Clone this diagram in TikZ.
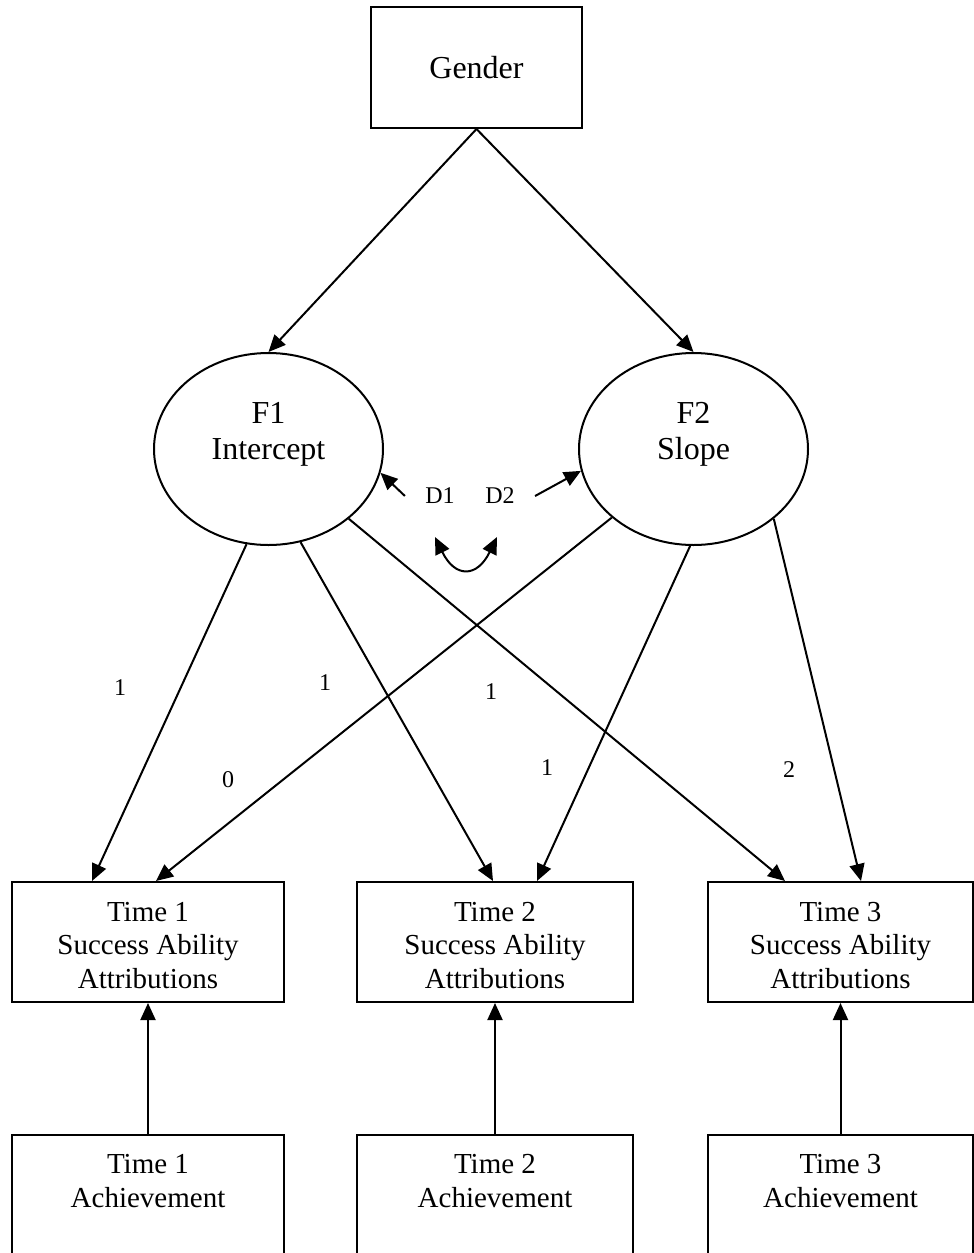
\documentclass[tikz,border=0pt]{standalone}
\usepackage{fontspec}
\setmainfont{Liberation Serif}
\usetikzlibrary{shapes.geometric,arrows.meta,calc}
\begin{document}
\begin{tikzpicture}[x=0.5pt,y=-0.5pt,
  box/.style={draw, line width=1pt, rectangle, inner sep=0pt, align=center},
  obs/.style={box, font=\fontsize{14.5}{16.75}\selectfont},
  latent/.style={draw, ellipse, line width=1pt, inner sep=0pt,
    minimum width=114.5pt, minimum height=96pt, align=center,
    font=\fontsize{16}{18}\selectfont},
  tip/.tip={Triangle[length=8.5pt,width=7.5pt]},
  path/.style={line width=1pt, -tip},
  cov/.style={line width=1pt, tip-tip},
  coef/.style={font=\fontsize{12}{14}\selectfont, inner sep=0pt}]
\clip (0,0) rectangle (974,1253);
\fill[white] (0,0) rectangle (974,1253);

% predictor
\node[box, minimum width=105.5pt, minimum height=60.5pt,
      font=\fontsize{16}{18}\selectfont] (gender) at (476.5,67.5) {Gender};

% growth factors
\node[latent] (F1) at (268.5,449) {F1\\Intercept\\\mbox{}};
\node[latent] (F2) at (693.5,449) {F2\\Slope\\\mbox{}};

% disturbances
\node[coef, inner xsep=10pt] (d1) at (440,496) {D1};
\node[coef, inner xsep=10pt] (d2) at (500,496) {D2};
\coordinate (cvl) at (435,537);
\coordinate (cvr) at (497,537);

% repeated measures
\node[obs, minimum width=136pt, minimum height=60pt] (a1) at (148,942)
  {\rule{0pt}{13pt}Time 1\\Success Ability\\Attributions};
\node[obs, minimum width=138pt, minimum height=60pt] (a2) at (495,942)
  {\rule{0pt}{13pt}Time 2\\Success Ability\\Attributions};
\node[obs, minimum width=132.5pt, minimum height=60pt] (a3) at (840.5,942)
  {\rule{0pt}{13pt}Time 3\\Success Ability\\Attributions};

% time-varying covariates
\node[obs, minimum width=136pt, minimum height=63pt,
      font=\fontsize{14.5}{17}\selectfont] (b1) at (148,1198)
  {Time 1\\Achievement\\\mbox{}};
\node[obs, minimum width=138pt, minimum height=63pt,
      font=\fontsize{14.5}{17}\selectfont] (b2) at (495,1198)
  {Time 2\\Achievement\\\mbox{}};
\node[obs, minimum width=132.5pt, minimum height=63pt,
      font=\fontsize{14.5}{17}\selectfont] (b3) at (840.5,1198)
  {Time 3\\Achievement\\\mbox{}};

% paths from gender
\draw[path] (gender.south) -- (F1.north);
\draw[path] (gender.south) -- (F2.north);

% disturbance paths and covariance
\draw[path] (d1.west) -- (F1.-12);
\draw[path] (d2.east) -- (F2.-169);
\draw[cov] (cvl) .. controls (455,578) and (477,578) .. (cvr);

% factor loadings
\draw[path] (F1.-103) -- ($(a1.north west)+(81,0)$);
\draw[path] (F1.-71)  -- ($(a2.north west)+(137,0)$);
\draw[path] (F1.-41)  -- ($(a3.north west)+(78,0)$);
\draw[path] (F2.-140) -- ($(a1.north west)+(145,0)$);
\draw[path] (F2.-92)  -- ($(a2.north west)+(181,0)$);
\draw[path] (F2.-41)  -- ($(a3.north west)+(154,0)$);

% covariate effects
\draw[path] (b1) -- (a1);
\draw[path] (b2) -- (a2);
\draw[path] (b3) -- (a3);

% loading values
\node[coef] (l1) at (120,688) {1};
\node[coef] (l2) at (325,683) {1};
\node[coef] (l3) at (491,692) {1};
\node[coef] (l4) at (228,780) {0};
\node[coef] (l5) at (547,768) {1};
\node[coef] (l6) at (789,770) {2};
\end{tikzpicture}
\end{document}
